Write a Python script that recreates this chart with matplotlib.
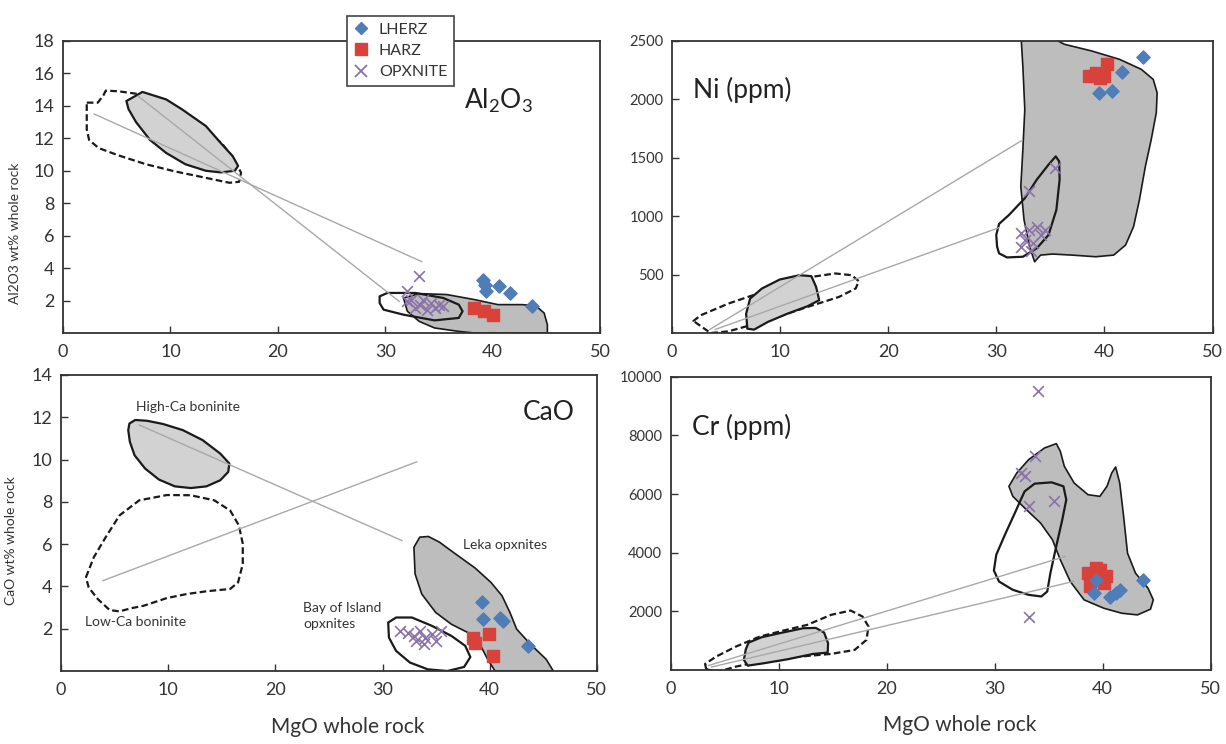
import matplotlib
matplotlib.use("Agg")
import matplotlib.pyplot as plt
from matplotlib.patches import Polygon

plt.rcParams['font.family'] = ['Lato', 'DejaVu Sans']
plt.rcParams['mathtext.default'] = 'regular'

# marker colours
C_LHERZ = "#4f7db8"
C_HARZ = "#d8423b"
C_OPX = "#8b72a9"

# ---------------- Al2O3 panel ----------------
al_hica = [(5.9, 14.3), (7.4, 14.86), (9.6, 14.4), (11.05, 13.8), (13.3, 12.76), (14.7, 11.7),
           (15.8, 10.9), (16.3, 10.3), (16.0, 10.0), (14.7, 9.9), (13.3, 10.0), (11.4, 10.4),
           (9.6, 11.1), (8.1, 11.9), (6.8, 13.0), (6.1, 13.8)]
al_loca = [(2.21, 14.2), (3.24, 14.2), (3.76, 14.65), (3.98, 14.94), (5.16, 14.9), (6.82, 14.75),
           (8.84, 14.5), (9.95, 14.0), (10.87, 13.27), (11.79, 12.65), (13.26, 12.35), (14.74, 11.73),
           (15.84, 10.8), (16.58, 9.88), (16.4, 9.32), (15.5, 9.26), (13.26, 9.57), (10.3, 9.98),
           (7.74, 10.4), (5.16, 10.95), (3.32, 11.4), (2.43, 11.9), (2.21, 12.55)]
al_leka = [(31.7, 2.16), (33.16, 2.43), (35.74, 2.37), (38.3, 2.06), (40.5, 1.75), (42.7, 1.75),
           (44.0, 1.69), (44.8, 1.23), (45.1, 0.51), (45.1, 0.0), (38.3, 0.0), (36.85, 0.1),
           (34.6, 0.31), (33.16, 0.72), (32.06, 1.34)]
al_boi = [(29.48, 2.26), (30.2, 2.47), (32.8, 2.47), (35.4, 2.16), (36.85, 1.75), (37.2, 1.34),
          (36.85, 0.93), (34.6, 0.78), (31.7, 1.13), (29.85, 1.44), (29.48, 1.85)]
al_ties = [[(2.9, 13.5), (33.4, 4.4)], [(7.0, 14.6), (31.3, 1.95)]]
al_lherz_x = [39.1, 39.3, 39.4, 40.6, 41.6, 43.66]
al_lherz_y = [3.29, 2.98, 2.57, 2.88, 2.47, 1.69]
al_harz_x = [38.3, 39.2, 40.0]
al_harz_y = [1.54, 1.34, 1.13]
al_opx_x = [33.16, 32.06, 32.4, 33.5, 34.3, 35.0, 32.8, 33.9, 32.0, 33.2, 34.6, 35.4]
al_opx_y = [3.5, 2.57, 2.06, 2.06, 1.85, 1.75, 1.54, 1.44, 1.95, 1.75, 1.54, 1.65]

# ---------------- Ni panel ----------------
ni_leka = [(32.46, 2500), (34.47, 2560), (36.3, 2472), (38.85, 2414), (41.4, 2343), (43.42, 2257),
           (44.52, 2171), (44.88, 2056), (44.8, 1885), (44.33, 1655), (43.79, 1426), (43.24, 1140),
           (42.7, 911), (41.96, 753), (40.86, 667), (39.2, 653), (37.0, 667), (35.2, 676),
           (34.1, 667), (33.55, 610), (33.08, 739), (32.57, 968), (32.27, 1254), (32.46, 1569),
           (32.64, 1913), (32.46, 2285), (32.27, 2572)]
ni_boi = [(30.26, 682), (31.0, 647), (32.46, 653), (33.74, 725), (34.83, 839), (35.56, 1054),
          (35.86, 1312), (35.82, 1469), (35.5, 1512), (34.83, 1441), (33.74, 1312), (32.64, 1154),
          (31.18, 1011), (30.26, 934), (30.0, 839), (30.08, 739)]
ni_loca = [(2.12, 95), (3.58, 0), (5.23, 14), (8.88, 109), (12.54, 223), (15.46, 309), (17.0, 381),
           (17.29, 444), (16.63, 495), (15.1, 510), (12.54, 475), (8.88, 367), (5.23, 252),
           (2.67, 152), (2.0, 103)]
ni_hica = [(6.98, 37), (6.87, 166), (7.24, 295), (8.33, 381), (9.98, 458), (11.8, 495), (12.9, 487),
           (13.34, 395), (13.63, 281), (12.54, 229), (10.7, 166), (8.88, 95), (7.6, 29)]
ni_ties = [[(3.5, 30), (32.4, 1650)], [(4.0, 30), (30.2, 900)]]
ni_lherz_x = [43.6, 41.6, 39.47, 40.68]
ni_lherz_y = [2366, 2234, 2051, 2071]
ni_harz_x = [38.6, 39.2, 40.2, 40.0, 39.6]
ni_harz_y = [2200, 2230, 2300, 2200, 2180]
ni_opx_x = [32.27, 33.0, 33.73, 34.47, 32.64, 33.37, 34.1, 32.27, 33.2, 33.0, 35.4]
ni_opx_y = [853, 882, 911, 882, 796, 768, 839, 739, 705, 1212, 1412]

# ---------------- CaO panel ----------------
ca_hica = [(6.38, 11.7), (6.93, 11.87), (8.04, 11.83), (9.51, 11.68), (11.36, 11.39), (13.2, 10.92),
           (14.86, 10.28), (15.71, 9.81), (15.6, 9.41), (14.86, 9.02), (13.57, 8.73), (12.1, 8.65),
           (10.62, 8.73), (9.14, 9.05), (7.85, 9.57), (6.86, 10.2), (6.42, 10.84), (6.27, 11.39)]
ca_loca = [(2.32, 4.43), (3.06, 5.38), (4.17, 6.33), (5.46, 7.36), (7.3, 8.07), (9.88, 8.32),
           (12.1, 8.31), (14.3, 8.07), (15.78, 7.59), (16.6, 6.88), (16.96, 6.01), (16.96, 5.06),
           (16.52, 4.19), (15.78, 3.88), (13.57, 3.77), (11.73, 3.64), (9.88, 3.45), (7.67, 3.08),
           (6.56, 2.97), (5.46, 2.82), (4.54, 2.88), (3.43, 3.4), (2.58, 3.95)]
ca_leka = [(32.93, 5.85), (33.48, 6.33), (34.29, 6.36), (35.32, 6.09), (36.8, 5.54), (38.64, 4.87),
           (40.12, 4.19), (41.15, 3.56), (41.89, 2.77), (42.52, 1.98), (43.8, 1.27), (45.28, 0.55),
           (45.94, 0.0), (40.5, 0.0), (39.82, 0.55), (39.08, 1.27), (38.27, 1.74), (36.43, 2.21),
           (34.96, 2.77), (33.66, 3.64), (33.04, 4.59)]
ca_boi = [(30.53, 2.29), (31.27, 2.53), (32.74, 2.53), (34.59, 2.14), (36.43, 1.66), (37.72, 1.19),
          (38.2, 0.66), (37.61, 0.19), (36.06, 0.0), (34.22, 0.08), (32.56, 0.4), (31.27, 0.95),
          (30.6, 1.58)]
ca_ties = [[(7.3, 11.63), (31.8, 6.17)], [(3.9, 4.27), (33.2, 9.89)]]
ca_lherz_x = [39.3, 39.38, 40.93, 41.2, 43.6]
ca_lherz_y = [3.24, 2.45, 2.53, 2.37, 1.19]
ca_harz_x = [38.46, 38.64, 39.93, 40.3]
ca_harz_y = [1.58, 1.34, 1.74, 0.71]
ca_opx_x = [31.64, 32.37, 32.93, 33.48, 34.0, 34.6, 34.96, 35.5, 33.1, 33.85]
ca_opx_y = [1.9, 1.82, 1.66, 1.9, 1.58, 1.74, 1.42, 1.9, 1.42, 1.27]

# ---------------- Cr panel ----------------
cr_leka = [(31.32, 6265), (32.05, 6720), (33.15, 7176), (34.62, 7574), (35.71, 7722), (36.08, 7460),
           (36.45, 6948), (37.36, 6378), (38.64, 5980), (39.74, 5923), (40.4, 6265), (40.84, 6720),
           (41.2, 6925), (41.58, 6378), (41.94, 5239), (42.3, 3987), (43.04, 3303), (44.2, 2790),
           (44.69, 2392), (44.43, 2073), (43.22, 1879), (41.76, 1936), (40.1, 2107), (38.28, 2392),
           (37.0, 3018), (36.08, 3759), (35.35, 4442), (34.25, 5012), (32.78, 5524), (31.68, 5923)]
cr_boi = [(32.78, 6094), (33.7, 6356), (35.27, 6401), (36.37, 6265), (36.63, 5809), (36.26, 5126),
          (35.7, 4214), (35.16, 3303), (34.87, 2677), (34.32, 2506), (33.15, 2563), (31.68, 2734),
          (30.4, 3018), (29.93, 3394), (30.15, 3930), (30.95, 4613), (31.87, 5353), (32.42, 5809)]
cr_loca = [(3.3, 23), (3.19, 205), (4.21, 456), (6.04, 797), (8.24, 1139), (10.44, 1344),
           (12.64, 1538), (14.84, 1879), (16.67, 2027), (17.77, 1822), (18.32, 1481), (18.13, 1025),
           (17.03, 683), (14.84, 547), (12.64, 478), (10.44, 399), (8.24, 285), (6.04, 114), (4.4, -57)]
cr_hica = [(6.96, 706), (7.22, 934), (8.42, 1116), (10.07, 1253), (12.27, 1424), (13.44, 1435),
           (14.21, 1276), (14.58, 911), (14.54, 592), (13.19, 547), (10.81, 364), (8.61, 228),
           (7.14, 148), (6.78, 342)]
cr_ties = [[(3.5, 150), (36.5, 3870)], [(3.8, 100), (37.3, 3020)]]
cr_lherz_x = [39.4, 39.2, 40.66, 41.58, 41.2, 43.77]
cr_lherz_y = [3075, 2620, 2506, 2734, 2620, 3075]
cr_harz_x = [38.64, 39.74, 40.3, 38.8, 40.1, 39.4]
cr_harz_y = [3303, 3417, 3189, 2848, 2961, 3474]
cr_opx_x = [34.0, 33.7, 32.4, 32.8, 33.15, 35.53, 33.15]
cr_opx_y = [9510, 7290, 6720, 6606, 5580, 5752, 1822]

fig = plt.figure(figsize=(12.26, 7.44), dpi=100)
fig.patch.set_facecolor("white")

ax_al = fig.add_axes([0.0514, 0.5524, 0.438, 0.3925])
ax_ni = fig.add_axes([0.548, 0.5524, 0.441, 0.3925])
ax_ca = fig.add_axes([0.0498, 0.0981, 0.437, 0.398])
ax_cr = fig.add_axes([0.547, 0.0995, 0.4405, 0.394])

GREY_DARK = "#bdbdbd"
GREY_LIGHT = "#d2d2d2"


def field(ax, pts, fill=None, ls="-", lw=1.6):
    ax.add_patch(Polygon(pts, closed=True, facecolor=fill if fill else "none",
                         edgecolor="#1a1a1a", linestyle=ls, linewidth=lw,
                         joinstyle="round", zorder=2))


def ties(ax, lines):
    for (x0, y0), (x1, y1) in lines:
        ax.plot([x0, x1], [y0, y1], color="#a8a8a8", lw=1.0, zorder=3)


def points(ax, lx, ly, hx, hy, ox, oy):
    ax.scatter(ox, oy, marker="x", s=60, color=C_OPX, linewidths=1.2, zorder=4)
    ax.scatter(hx, hy, marker="s", s=75, color=C_HARZ, zorder=5)
    ax.scatter(lx, ly, marker="D", s=45, color=C_LHERZ, zorder=6)


def style(ax, yticks, ylim, fs):
    ax.set_xlim(0, 50)
    ax.set_ylim(*ylim)
    ax.set_xticks([0, 10, 20, 30, 40, 50])
    ax.set_yticks(yticks)
    ax.tick_params(direction="in", length=5, width=1, colors="#333333",
                   labelcolor="#333333")
    ax.tick_params(axis="x", labelsize=13, pad=8)
    ax.tick_params(axis="y", labelsize=fs, pad=6)
    for s in ax.spines.values():
        s.set_color("#333333")
        s.set_linewidth(1.3)


# Al2O3
field(ax_al, al_loca, ls=(0, (3, 1.5)))
field(ax_al, al_hica, fill=GREY_LIGHT)
field(ax_al, al_leka, fill=GREY_DARK, lw=1.2)
field(ax_al, al_boi)
ties(ax_al, al_ties)
points(ax_al, al_lherz_x, al_lherz_y, al_harz_x, al_harz_y, al_opx_x, al_opx_y)
style(ax_al, [2, 4, 6, 8, 10, 12, 14, 16, 18], (0, 18), 13)
ax_al.text(40.5, 14.3, "Al$_2$O$_3$", fontsize=19, color="#222222", ha="center", va="center")
ax_al.set_ylabel("Al2O3 wt% whole rock", fontsize=10, color="#333333")
ax_al.yaxis.set_label_coords(-0.078, 0.34)

# Ni
field(ax_ni, ni_leka, fill=GREY_DARK, lw=1.2)
field(ax_ni, ni_boi)
field(ax_ni, ni_loca, ls=(0, (3, 1.5)))
field(ax_ni, ni_hica, fill=GREY_LIGHT)
ties(ax_ni, ni_ties)
points(ax_ni, ni_lherz_x, ni_lherz_y, ni_harz_x, ni_harz_y, ni_opx_x, ni_opx_y)
style(ax_ni, [500, 1000, 1500, 2000, 2500], (0, 2500), 10.5)
ax_ni.text(2.0, 2080, "Ni (ppm)", fontsize=19, color="#222222", ha="left", va="center")

# CaO
field(ax_ca, ca_hica, fill=GREY_LIGHT)
field(ax_ca, ca_loca, ls=(0, (3, 1.5)))
field(ax_ca, ca_leka, fill=GREY_DARK, lw=1.2)
field(ax_ca, ca_boi)
ties(ax_ca, ca_ties)
points(ax_ca, ca_lherz_x, ca_lherz_y, ca_harz_x, ca_harz_y, ca_opx_x, ca_opx_y)
style(ax_ca, [2, 4, 6, 8, 10, 12, 14], (0, 14), 13)
ax_ca.text(45.5, 12.2, "CaO", fontsize=19, color="#222222", ha="center", va="center")
ax_ca.text(7.0, 12.5, "High-Ca boninite", fontsize=10, color="#333333", ha="left", va="center")
ax_ca.text(2.2, 2.3, "Low-Ca boninite", fontsize=10, color="#333333", ha="left", va="center")
ax_ca.text(37.5, 5.95, "Leka opxnites", fontsize=10, color="#333333", ha="left", va="center")
ax_ca.text(22.6, 2.6, "Bay of Island\nopxnites", fontsize=10, color="#333333", ha="left",
           va="center", linespacing=1.35)
ax_ca.set_ylabel("CaO wt% whole rock", fontsize=10, color="#333333")
ax_ca.yaxis.set_label_coords(-0.082, 0.44)
ax_ca.set_xlabel("MgO whole rock", fontsize=15, color="#333333")
ax_ca.xaxis.set_label_coords(0.535, -0.155)

# Cr
field(ax_cr, cr_leka, fill=GREY_DARK, lw=1.2)
field(ax_cr, cr_boi)
field(ax_cr, cr_loca, ls=(0, (3, 1.5)))
field(ax_cr, cr_hica, fill=GREY_LIGHT)
ties(ax_cr, cr_ties)
points(ax_cr, cr_lherz_x, cr_lherz_y, cr_harz_x, cr_harz_y, cr_opx_x, cr_opx_y)
style(ax_cr, [2000, 4000, 6000, 8000, 10000], (0, 10000), 10.5)
ax_cr.text(2.0, 8300, "Cr (ppm)", fontsize=19, color="#222222", ha="left", va="center")
ax_cr.set_xlabel("MgO whole rock", fontsize=15, color="#333333")
ax_cr.xaxis.set_label_coords(0.535, -0.155)

# legend
h1 = plt.Line2D([], [], marker="D", ls="none", color=C_LHERZ, markersize=6.5)
h2 = plt.Line2D([], [], marker="s", ls="none", color=C_HARZ, markersize=9)
h3 = plt.Line2D([], [], marker="x", ls="none", color=C_OPX, markersize=9, mew=1.3)
leg = fig.legend([h1, h2, h3], ["LHERZ", "HARZ", "OPXNITE"],
                 loc="upper left", bbox_to_anchor=(339 / 1226, 1 - 8 / 744),
                 fontsize=11.5, frameon=True, fancybox=False, framealpha=1,
                 edgecolor="#444444", handlelength=1.0, handletextpad=0.6,
                 borderpad=0.4, labelspacing=0.45)
leg.get_frame().set_linewidth(1.2)
for t in leg.get_texts():
    t.set_color("#333333")

fig.savefig("out.png", dpi=100, facecolor="white")
